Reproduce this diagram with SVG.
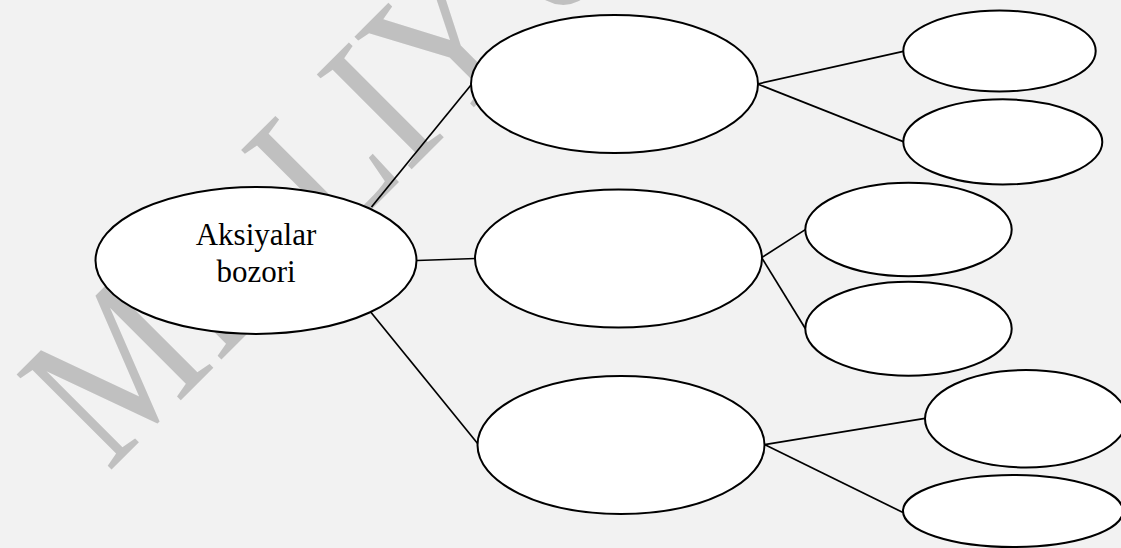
<svg xmlns="http://www.w3.org/2000/svg" width="1121" height="548" viewBox="0 0 1121 548">
  <style>
    .node { fill: #ffffff; stroke: #000000; stroke-width: 2; }
    .link { stroke: #000000; stroke-width: 1.7; fill: none; }
    .serif { font-family: "Liberation Serif", "Times New Roman", serif; }
    .label { font-size: 31px; fill: #000000; text-anchor: middle; }
    .mark { font-size: 205px; fill: #c0c0c0; }
  </style>

  <!-- page background -->
  <rect x="0" y="0" width="1121" height="548" fill="#f2f2f2"/>

  <!-- diagonal watermark behind the chart -->
  <text class="mark serif" transform="translate(108,473) rotate(-45) scale(0.845,1)">MILLIY <tspan dx="-24">U</tspan></text>

  <!-- connectors -->
  <g id="connectors">
    <line class="link" x1="371.5" y1="207" x2="471" y2="85"/>
    <line class="link" x1="417" y1="260.5" x2="475.5" y2="258.5"/>
    <line class="link" x1="370.7" y1="312" x2="478" y2="444"/>
    <line class="link" x1="757.5" y1="84" x2="903.3" y2="51.4"/>
    <line class="link" x1="757.5" y1="84" x2="903.3" y2="141.6"/>
    <line class="link" x1="761.7" y1="257.6" x2="805.3" y2="229.6"/>
    <line class="link" x1="761.7" y1="257.6" x2="805.3" y2="328.5"/>
    <line class="link" x1="764.5" y1="444.6" x2="925" y2="418.4"/>
    <line class="link" x1="764.5" y1="444.6" x2="903" y2="512.5"/>
  </g>

  <!-- root node -->
  <g id="root">
    <ellipse class="node" cx="256" cy="260.5" rx="160.5" ry="73.5"/>
    <text class="label serif" x="256" y="244.5">Aksiyalar</text>
    <text class="label serif" x="256" y="281.8">bozori</text>
  </g>

  <!-- second level -->
  <g id="branch-top">
    <ellipse class="node" cx="614.5" cy="84" rx="143.5" ry="69"/>
  </g>
  <g id="branch-middle">
    <ellipse class="node" cx="618.5" cy="258.5" rx="143.5" ry="69"/>
  </g>
  <g id="branch-bottom">
    <ellipse class="node" cx="621" cy="445" rx="143.5" ry="69"/>
  </g>

  <!-- leaves -->
  <g id="leaf-1">
    <ellipse class="node" cx="999.5" cy="51" rx="96.2" ry="40.5"/>
  </g>
  <g id="leaf-2">
    <ellipse class="node" cx="1002.8" cy="141.9" rx="99.5" ry="42.6"/>
  </g>
  <g id="leaf-3">
    <ellipse class="node" cx="908.5" cy="229.5" rx="103.2" ry="46.7"/>
  </g>
  <g id="leaf-4">
    <ellipse class="node" cx="908.5" cy="328.7" rx="103.2" ry="47"/>
  </g>
  <g id="leaf-5">
    <ellipse class="node" cx="1026" cy="418.7" rx="101" ry="48.7"/>
  </g>
  <g id="leaf-6">
    <ellipse class="node" cx="1013" cy="511" rx="110" ry="36"/>
  </g>
</svg>
